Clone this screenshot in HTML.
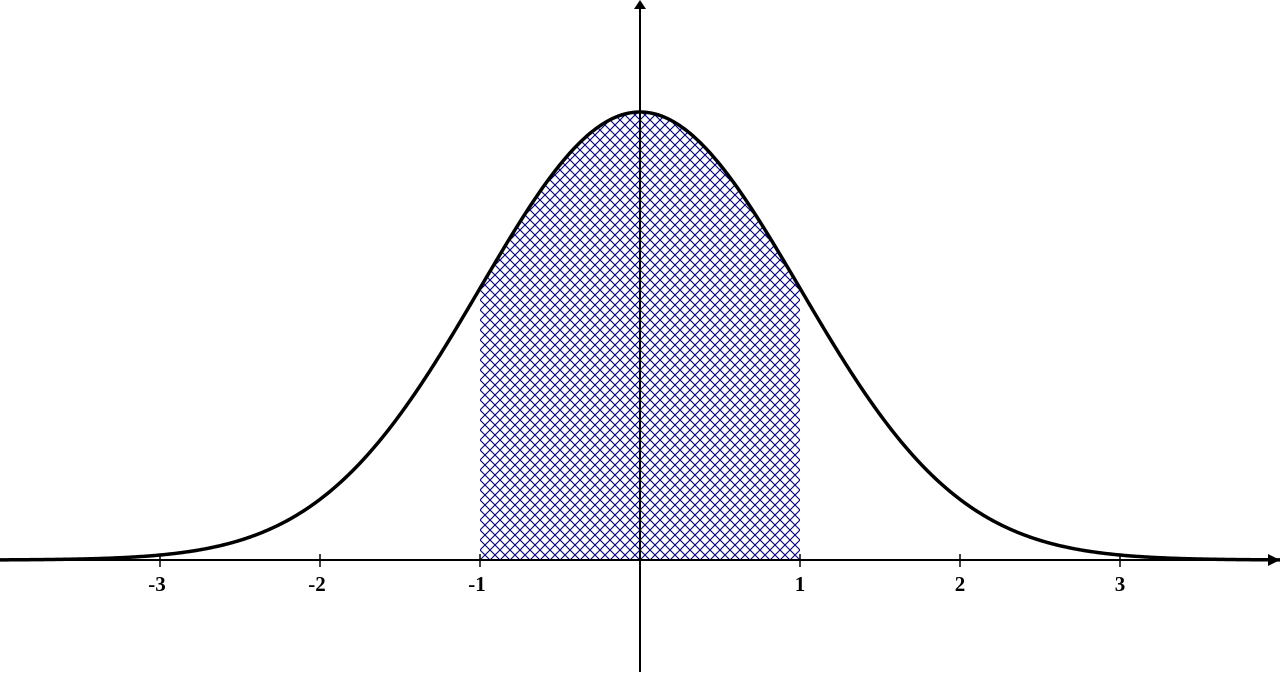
<!DOCTYPE html>
<html><head><meta charset="utf-8"><style>
html,body{margin:0;padding:0;background:#fff;width:1280px;height:674px;overflow:hidden}
svg{display:block}
text{font-family:"Liberation Serif",serif;font-weight:bold;font-size:21px}
</style></head><body>
<svg id="chart" width="1280" height="674">
<defs>
<pattern id="hatch" width="10" height="10" patternUnits="userSpaceOnUse" x="640" y="560">
<path d="M0,0 L10,10 M10,0 L0,10 M-1,9 L1,11 M9,-1 L11,1 M9,11 L11,9 M-1,1 L1,-1" stroke="#000080" stroke-width="1.1"/>
</pattern>
</defs>
</svg>
<script>
const tickValues=[-3,-2,-1,1,2,3];
const tickLabels=["-3","-2","-1","1","2","3"];
const shadeRange=[-1,1];
const mean=0, sd=1;
const xDomain=[-4,4];
const svg=document.getElementById('chart');
const NS='http://www.w3.org/2000/svg';
const X=v=>640+v*160;
const Y=d=>560-d*1123;
const pdf=x=>Math.exp(-0.5*((x-mean)/sd)**2)/(sd*Math.sqrt(2*Math.PI));
function el(t,a){const e=document.createElementNS(NS,t);for(const k in a)e.setAttribute(k,a[k]);svg.appendChild(e);return e;}
// shaded area
let d=`M${X(shadeRange[0])},${Y(0)}`;
for(let x=shadeRange[0];x<=shadeRange[1]+1e-9;x+=0.01)d+=` L${X(x).toFixed(2)},${Y(pdf(x)).toFixed(2)}`;
d+=` L${X(shadeRange[1])},${Y(0)} Z`;
const area=el('path',{d:d,fill:'url(#hatch)'});


// axes
const xa=el('line',{x1:0,y1:560,x2:1272,y2:560,stroke:'#000','stroke-width':2});


const xar=el('path',{d:'M1280,560 L1268,554 L1268,566 Z',fill:'#000'});


const ya=el('line',{x1:640,y1:672,x2:640,y2:8,stroke:'#000','stroke-width':2});


const yar=el('path',{d:'M640,0 L634,9 L646,9 Z',fill:'#000'});


// curve
let c='';
for(let x=xDomain[0];x<=xDomain[1]+1e-9;x+=0.01)c+=(c?' L':'M')+X(x).toFixed(2)+','+Y(pdf(x)).toFixed(2);
const curve=el('path',{d:c,fill:'none',stroke:'#000','stroke-width':3.5});


// ticks
tickValues.forEach((v,i)=>{
 const t=el('line',{x1:X(v),y1:554,x2:X(v),y2:567,stroke:'#000','stroke-width':1.5});
 
 
 const l=el('text',{x:X(v)-(v<0?3:0),y:591,'text-anchor':'middle'});
 l.textContent=tickLabels[i];
 
 
});
</script>
</body></html>
